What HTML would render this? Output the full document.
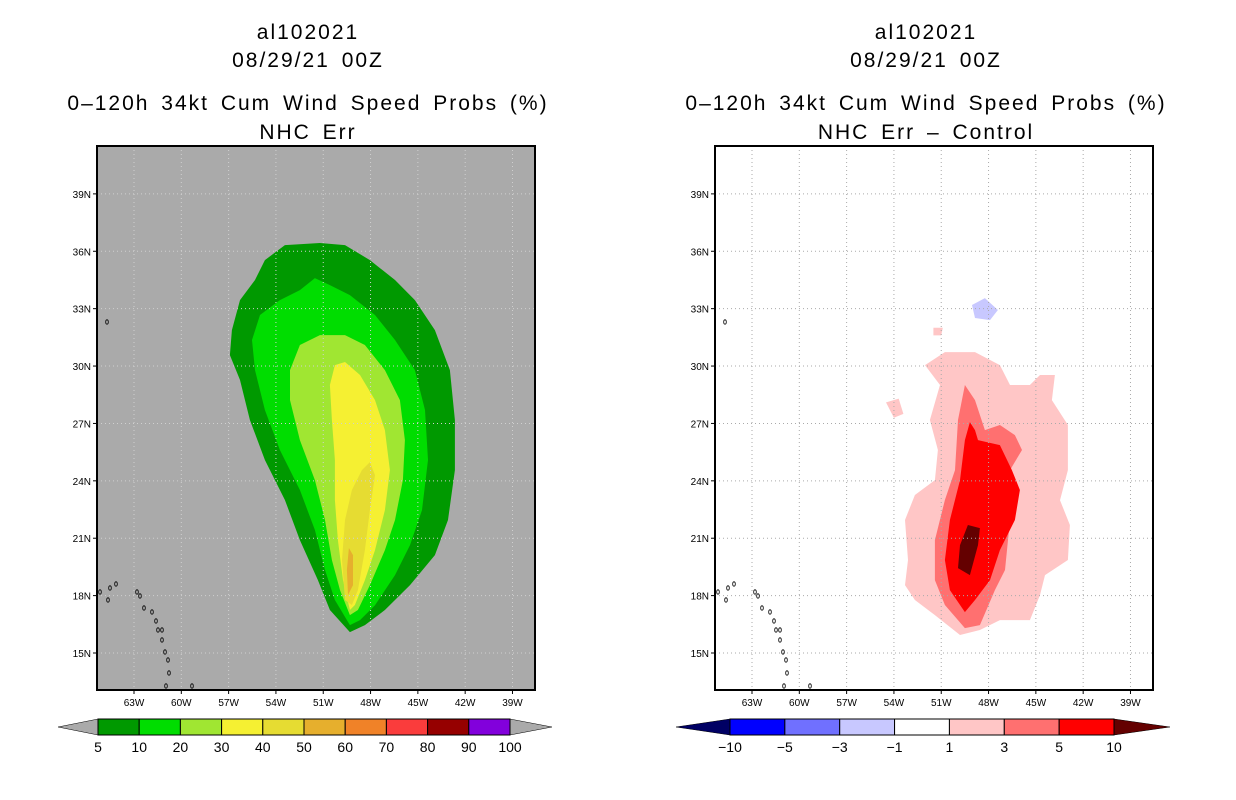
<!DOCTYPE html>
<html><head><meta charset="utf-8"><style>
html,body{margin:0;padding:0;background:#fff;}
svg{display:block;font-family:"Liberation Sans",sans-serif;}
</style></head><body>
<svg id="root" width="1236" height="800" viewBox="0 0 1236 800" xmlns="http://www.w3.org/2000/svg"></svg>
<script>
// ---- data ----
const lonTicks = [63,60,57,54,51,48,45,42,39];
const latTicks = [39,36,33,30,27,24,21,18,15];
const leftLevels = ['5','10','20','30','40','50','60','70','80','90','100'];
const leftColors = ['#009900','#00dd00','#a0e632','#f5f032','#e6dc32','#e6af2d','#f08228','#fa3c3c','#960000','#8200dc'];
const rightLevels = ['-10','-5','-3','-1','1','3','5','10'];
const rightColors = ['#0000ff','#7070ff','#c8c8ff','#ffffff','#ffc6c6','#ff7070','#ff0000'];
// contour polygons (degrees W, degrees N)
const p5Lon = [49.31,50.58,51.34,52.48,53.43,54.7,55.65,56.28,56.92,56.79,56.28,55.33,54.7,53.43,51.21,49.62,48.04,46.45,45.19,43.92,42.97,42.65,42.65,43.09,43.92,45.5,47.09,48.36];
const p5Lat = [16.09,17.25,18.81,20.9,23.0,25.09,27.18,29.27,30.57,31.88,33.45,34.5,35.54,36.32,36.43,36.32,35.54,34.5,33.45,31.88,29.79,27.18,24.56,21.95,20.12,18.55,17.25,16.46];
const p10Lon = [49.31,50.26,50.89,51.53,52.48,53.75,54.7,55.33,55.52,55.01,53.75,52.48,51.53,50.58,49.31,47.72,46.45,45.19,44.55,44.36,44.74,45.5,46.45,47.72,48.67];
const p10Lat = [16.46,17.77,19.34,21.43,23.52,25.61,27.7,29.79,31.36,32.67,33.45,33.97,34.6,34.23,33.71,32.67,31.36,29.79,27.7,25.09,22.47,20.64,19.07,17.5,16.72];
const p20Lon = [49.31,49.94,50.45,50.89,51.53,52.48,53.11,53.11,52.48,51.21,49.62,48.36,47.09,46.14,45.82,45.95,46.45,47.09,48.04,48.8];
const p20Lat = [16.98,18.29,19.86,21.95,24.04,26.13,28.22,29.79,31.1,31.62,31.62,31.1,29.79,28.22,26.13,24.04,21.95,20.38,18.55,17.25];
const p30Lon = [49.31,49.75,50.07,50.26,50.26,50.45,50.58,50.26,49.62,48.67,47.72,47.09,46.77,47.09,47.72,48.36,48.99];
const p30Lat = [17.25,18.81,20.9,23.0,25.09,27.18,29.01,30.05,30.21,29.53,28.22,26.65,24.56,22.47,20.38,18.81,17.51];
const p40Lon = [49.62,49.81,49.62,49.18,48.55,48.04,47.72,48.04,48.36,48.8,49.18];
const p40Lat = [17.77,19.86,21.95,23.52,24.56,24.98,24.3,22.47,20.38,18.29,17.51];
const p50Lon = [49.43,49.5,49.37,49.11,49.11];
const p50Lat = [18.03,19.34,20.49,20.12,18.55];
const d1Lon = [49.81,51.4,52.67,53.3,53.11,53.3,52.67,51.4,51.21,51.72,51.08,52.03,50.77,48.86,47.28,46.64,45.38,44.74,43.79,43.98,42.97,42.97,43.47,42.84,42.97,44.42,44.74,45.38,47.28,48.55];
const d1Lat = [15.94,16.98,17.77,18.55,19.86,21.95,23.26,24.04,25.61,27.18,29.01,30.05,30.73,30.73,30.05,29.01,29.01,29.53,29.53,28.22,26.92,24.56,22.99,21.69,19.86,19.07,18.03,16.72,16.72,16.2];
const d1bLon = [54.5,53.7,53.4,54.0];
const d1bLat = [28.1,28.3,27.5,27.3];
const d1cLon = [51.5,50.9,51.0,51.5];
const d1cLat = [32.0,32.0,31.6,31.6];
const d3Lon = [49.5,50.77,51.4,51.4,50.77,50.13,49.94,49.5,48.86,48.23,47.28,46.33,45.88,46.64,46.64,46.96,47.6,48.55];
const d3Lat = [16.3,17.51,18.81,20.9,23.0,24.56,27.18,29.01,28.22,26.65,26.92,26.39,25.61,24.56,21.95,19.34,18.29,16.46];
const d5Lon = [49.5,50.45,50.77,50.45,49.81,49.5,49.18,48.86,48.67,47.28,46.52,46.01,46.33,47.28,47.91,48.86];
const d5Lat = [17.14,18.29,19.86,21.95,24.04,26.13,27.07,26.65,26.13,25.87,24.56,23.52,21.95,20.38,18.81,17.77];
const d10Lon = [49.81,49.31,48.55,48.67,49.18,49.94];
const d10Lat = [20.64,21.69,21.53,20.64,19.07,19.44];
const dNegLon = [49.05,48.23,47.41,47.91,48.86];
const dNegLat = [33.19,33.55,32.93,32.4,32.51];

// ---- geometry ----
const NS='http://www.w3.org/2000/svg';
const root=document.getElementById('root');
function mk(tag,attrs,parent){const e=document.createElementNS(NS,tag);for(const k in attrs)e.setAttribute(k,attrs[k]);(parent||root).appendChild(e);return e;}
const PX_DEG_X=15.77, PX_DEG_Y=19.13;
function makeAxes(x0){
  return {x:(lon)=>x0+37+(63-lon)*PX_DEG_X, y:(lat)=>653-(lat-15)*PX_DEG_Y, x0:x0};
}
function poly(ax,lons,lats,fill,g,name){
  const pts=lons.map((l,i)=>ax.x(l).toFixed(1)+','+ax.y(lats[i]).toFixed(1)).join(' ');
  const p=mk('polygon',{points:pts,fill:fill},g);
  
  
}
function titles(cx,l4,name){
  const lines=['al102021','08/29/21 00Z','0\u2013120h 34kt Cum Wind Speed Probs (%)',l4];
  const ys=[39,67,110,139];
  lines.forEach((s,i)=>{const t=mk('text',{x:cx,y:ys[i],'text-anchor':'middle','font-size':'21','fill':'#000','letter-spacing':'2','word-spacing':'4'});t.textContent=s;
    
    });
}
function islands(ax,g){
  const isl=[[100,592],[110,588],[116,584],[108,600],[137,592],[140,596],[144,608],[152,612],[156,621],[158,630],[162,630],[162,640],[165,652],[168,660],[169,673],[166,686],[192,686],[107,322]];
  isl.forEach(p=>{const e=mk('ellipse',{cx:p[0]+ax.x0-97,cy:p[1],rx:1.3,ry:2.2,fill:'none',stroke:'#000','stroke-width':'0.8'},g);
    
    });
}
function panel(x0,bg,gridColor,name){
  const ax=makeAxes(x0);
  const g=mk('g',{});
  
  
  const r=mk('rect',{x:x0,y:146,width:438,height:544,fill:bg},g);
  
  
  return {ax,g};
}
function axesDecor(P,gridColor,name){
  const {ax,g}=P; const x0=ax.x0;
  lonTicks.forEach(l=>{const x=ax.x(l);
    mk('line',{x1:x,y1:146,x2:x,y2:690,stroke:gridColor,'stroke-width':'1','stroke-dasharray':'1,3'},g);
    mk('line',{x1:x,y1:690,x2:x,y2:694,stroke:'#000'},g);
    const t=mk('text',{x:x,y:706,'text-anchor':'middle','font-size':'10'},g);t.textContent=l+'W';
    
    });
  latTicks.forEach(l=>{const y=ax.y(l);
    mk('line',{x1:x0,y1:y,x2:x0+438,y2:y,stroke:gridColor,'stroke-width':'1','stroke-dasharray':'1,3'},g);
    mk('line',{x1:x0-4,y1:y,x2:x0,y2:y,stroke:'#000'},g);
    const t=mk('text',{x:x0-6,y:y+4,'text-anchor':'end','font-size':'10'},g);t.textContent=l+'N';
    
    });
  islands(ax,g);
  const f=mk('rect',{x:x0,y:146,width:438,height:544,fill:'none',stroke:'#000','stroke-width':'2'},g);
  
  
}
function colorbar(x1,x2,tl,tr,colors,labels,lc,rc,name){
  const g=mk('g',{});
  
  
  const w=(x2-x1)/colors.length;
  mk('polygon',{points:`${tl},727 ${x1},719 ${x1},735`,fill:lc,stroke:'#000','stroke-width':'0.5'},g);
  mk('polygon',{points:`${tr},727 ${x2},719 ${x2},735`,fill:rc,stroke:'#000','stroke-width':'0.5'},g);
  colors.forEach((c,i)=>{const r=mk('rect',{x:x1+i*w,y:719,width:w,height:16,fill:c,stroke:'#000','stroke-width':'1'},g);
    
    });
  labels.forEach((s,i)=>{const t=mk('text',{x:x1+i*w,y:752,'text-anchor':'middle','font-size':'14'},g);t.textContent=s.replace('-','\u2212');
    
    });
}

// left panel
titles(308,'NHC Err','left');
const L=panel(97,'#aaaaaa','#d8d8d8','left-map-panel');
poly(L.ax,p5Lon,p5Lat,leftColors[0],L.g,'contour-5pct');
poly(L.ax,p10Lon,p10Lat,leftColors[1],L.g,'contour-10pct');
poly(L.ax,p20Lon,p20Lat,leftColors[2],L.g,'contour-20pct');
poly(L.ax,p30Lon,p30Lat,leftColors[3],L.g,'contour-30pct');
poly(L.ax,p40Lon,p40Lat,leftColors[4],L.g,'contour-40pct');
poly(L.ax,p50Lon,p50Lat,leftColors[5],L.g,'contour-50pct');
axesDecor(L,'#d0d0d0','left-map');
colorbar(98,510,58,552,leftColors,leftLevels,'#aaaaaa','#aaaaaa','left-colorbar');

// right panel
titles(926,'NHC Err \u2013 Control','right');
const R=panel(715,'#ffffff','#aaaaaa','right-map-panel');
poly(R.ax,d1Lon,d1Lat,rightColors[4],R.g,'diff-1-3');
poly(R.ax,d1bLon,d1bLat,rightColors[4],R.g,'diff-1-3-blob');
poly(R.ax,d1cLon,d1cLat,rightColors[4],R.g,'diff-1-3-blob');
poly(R.ax,d3Lon,d3Lat,rightColors[5],R.g,'diff-3-5');
poly(R.ax,d5Lon,d5Lat,rightColors[6],R.g,'diff-5-10');
poly(R.ax,d10Lon,d10Lat,'#640000',R.g,'diff-over-10');
poly(R.ax,dNegLon,dNegLat,rightColors[2],R.g,'diff-neg-1-3');
axesDecor(R,'#aaaaaa','right-map');
colorbar(730,1114,676,1170,rightColors,rightLevels,'#000064','#640000','right-colorbar');
</script>
</body></html>
